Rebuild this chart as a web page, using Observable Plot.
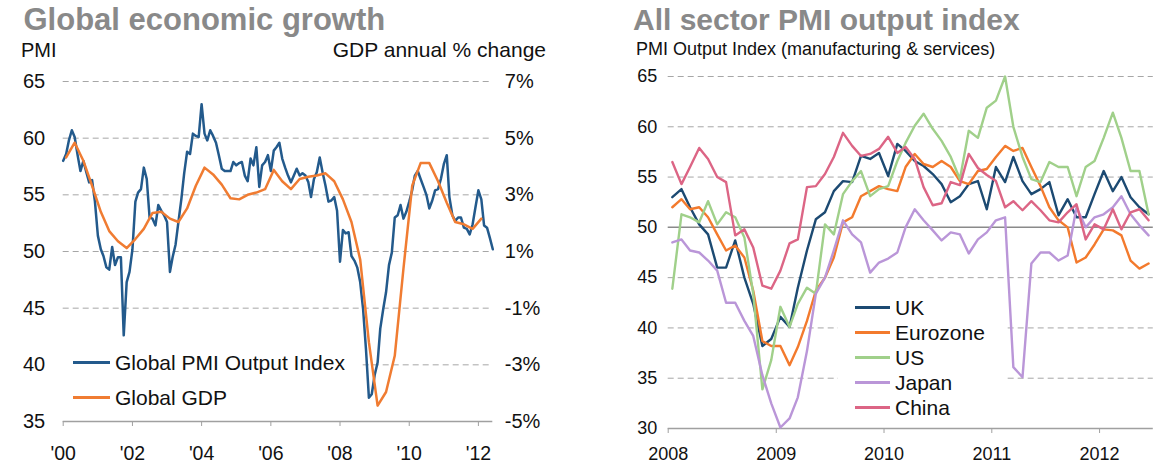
<!DOCTYPE html>
<html>
<head>
<meta charset="utf-8">
<script src="https://cdn.jsdelivr.net/npm/d3@7"></script>
<script src="https://cdn.jsdelivr.net/npm/@observablehq/plot@0.6"></script>
<style>
  html,body{margin:0;padding:0;background:#fff;}
  #wrap{position:relative;width:1154px;height:472px;overflow:hidden;font-family:"Liberation Sans",Arial,Helvetica,sans-serif;color:#111;}
  .chart{position:absolute;top:0;}
  .t{position:absolute;white-space:nowrap;line-height:1;}
  .title{font-weight:bold;color:#898989;}
  .legend{position:absolute;background:#fff;}
  .row{position:absolute;display:flex;align-items:center;white-space:nowrap;line-height:1;color:#111;}
  .sw{display:inline-block;height:3px;}
</style>
</head>
<body>
<div id="wrap">
  <div id="left" class="chart" style="left:0"></div>
  <div id="right" class="chart" style="left:577px"></div>
</div>
<script>
// ---------------- DATA ----------------
// Left panel: Global PMI Output Index, monthly from Jan 2000
const pmiStartYear = 2000;
const globalPMI = [
  58.0,58.6,59.8,60.7,60.1,58.5,57.1,58.0,57.0,56.1,56.3,54.4,
  51.4,50.2,49.6,48.6,48.4,50.4,48.8,49.5,49.5,42.6,47.3,48.2,
  50.2,54.4,55.2,55.5,57.4,56.4,53.0,52.9,52.3,54.1,53.6,53.2,
  52.6,48.2,49.5,50.6,52.6,54.6,56.9,58.8,58.6,60.4,60.2,60.1,
  63.0,60.4,59.8,60.7,60.2,59.6,58.5,57.3,57.1,57.1,57.1,57.9,
  57.6,57.8,57.9,56.7,56.2,58.2,57.6,59.2,55.7,57.6,57.9,58.5,
  57.1,58.9,59.2,59.6,58.2,57.4,56.7,56.1,56.7,57.3,56.7,56.9,
  56.7,56.1,54.8,56.4,57.0,58.3,57.0,55.8,54.4,54.5,54.8,53.6,
  49.1,51.9,51.6,51.7,49.6,49.2,48.6,47.3,44.9,41.4,37.1,37.4,
  39.1,40.2,43.2,44.9,46.4,48.8,49.9,53.0,53.2,54.1,52.9,53.5,
  54.4,55.4,56.7,57.1,56.4,55.7,55.0,53.8,54.5,55.4,55.5,56.4,
  57.7,58.5,54.8,53.2,52.7,53.0,53.0,52.1,52.0,51.5,52.4,53.9,
  55.4,54.6,52.3,52.1,51.2,50.2
];
// Global GDP annual % change, quarterly (mid-quarter, first = Feb 2000)
const gdpFirstMonth = 1;
const globalGDP = [
  4.32,4.84,4.2,3.32,2.4,1.72,1.36,1.12,1.44,1.8,2.36,2.4,2.16,2.04,2.52,3.32,
  3.96,3.72,3.36,2.88,2.84,3.0,3.08,3.2,3.88,3.48,3.2,3.56,3.64,3.68,3.76,3.48,
  2.84,2.04,0.72,-2.2,-4.44,-3.96,-2.68,0.4,3.32,4.12,4.12,3.48,2.72,2.04,1.96,1.8,2.16
];
const leftSeries = ["Global PMI Output Index","Global GDP"];
const pmiTicks = [35,40,45,50,55,60,65];
const gdpTicks = [-5,-3,-1,1,3,5,7];
const leftYearTicks = [2000,2002,2004,2006,2008,2010,2012];

// Right panel: All sector PMI output index, monthly Jan 2008 - Jun 2012
const rightStartYear = 2008;
const countries = ["UK","Eurozone","US","Japan","China"];
const uk = [
  53.0,53.8,52.0,50.3,49.3,46.0,46.0,48.7,45.0,42.4,38.2,38.9,
  41.1,40.1,44.0,47.7,50.8,51.5,53.6,54.6,54.5,57.1,56.8,57.4,
  55.1,58.3,57.6,56.6,56.1,55.3,54.3,52.5,53.1,54.3,54.6,51.8,
  56.0,54.5,57.0,54.6,53.3,53.8,54.5,51.2,52.8,51.0,51.0,53.3,
  55.6,53.6,55.0,53.0,52.0,51.3
];
const eurozone = [
  52.0,52.8,51.8,52.0,51.0,49.3,47.7,48.2,47.0,43.7,38.7,38.2,
  38.2,36.3,38.1,40.7,43.7,45.0,47.0,50.5,51.0,53.1,53.6,54.1,
  53.8,53.6,56.0,57.3,56.3,56.0,56.6,56.0,54.6,54.3,55.6,55.8,
  57.0,58.1,57.6,57.9,56.0,54.1,52.0,50.7,50.0,46.5,47.0,48.3,
  49.8,49.7,49.2,46.7,45.9,46.4
];
const us = [
  43.9,51.3,51.0,50.5,52.6,50.3,51.5,51.0,49.0,43.4,33.9,36.8,
  42.1,40.1,42.4,44.0,43.4,50.3,49.3,53.3,54.6,55.6,53.1,53.8,
  54.1,56.6,58.4,60.1,61.3,59.8,58.6,57.0,54.8,59.6,58.9,61.9,
  62.6,65.0,60.0,57.0,54.8,54.5,56.5,56.0,56.0,53.1,56.0,56.6,
  58.9,61.4,58.9,55.6,55.6,51.3
];
const japan = [
  48.5,48.8,47.7,47.5,46.7,45.7,42.5,42.5,40.7,39.2,35.3,32.5,
  30.1,31.0,33.1,37.7,43.4,45.0,47.7,50.7,49.3,48.5,45.5,46.5,
  46.9,47.5,50.0,51.8,50.7,49.7,48.7,49.5,49.3,47.4,48.8,49.5,
  50.7,51.0,36.1,35.1,46.4,47.5,47.5,46.7,47.2,52.0,50.0,51.0,
  51.3,52.0,53.1,51.3,50.2,49.2
];
const china = [
  56.5,54.3,56.0,57.9,56.8,55.0,54.5,49.2,49.8,48.0,44.2,43.9,
  45.7,48.4,48.8,54.0,54.1,55.3,57.0,59.4,58.1,57.1,57.3,57.8,
  59.0,57.4,58.0,56.8,54.0,52.2,52.4,54.5,54.2,57.3,55.9,55.2,
  54.6,52.0,52.6,51.7,52.6,51.7,50.7,50.5,51.5,52.3,48.8,50.3,
  49.8,51.8,49.8,51.5,51.8,50.7
];
const rightTicks = [30,35,40,45,50,55,60,65];
const rightYearTicks = [2008,2009,2010,2011,2012];

// ---------------- STYLE ----------------
const FONT = '"Liberation Sans", Arial, Helvetica, sans-serif';
const leftColors = ["#235a8c", "#f07c32"];
const countryColors = ["#1c4a72", "#f37a2d", "#a0d08a", "#ba96d8", "#dc6585"];
const gridStyle = {stroke: "#a6a6a6", strokeWidth: 1, strokeDasharray: "6,4"};

// ---------------- HELPERS ----------------
const wrap = document.getElementById("wrap");
function addText(txt, x, baseline, size, opts = {}) {
  const d = document.createElement("div");
  d.className = "t" + (opts.cls ? " " + opts.cls : "");
  d.textContent = txt;
  d.style.fontSize = size + "px";
  d.style.top = (baseline - 0.8465 * size) + "px";
  if (opts.align === "right") d.style.right = (1154 - x) + "px";
  else d.style.left = x + "px";
  if (opts.color) d.style.color = opts.color;
  wrap.appendChild(d);
}
function addLegend(box, items, swX0, swX1, textSize) {
  const b = document.createElement("div");
  b.className = "legend";
  Object.assign(b.style, {left: box.x + "px", top: box.y + "px", width: box.w + "px", height: box.h + "px"});
  wrap.appendChild(b);
  items.forEach(it => {
    const r = document.createElement("div");
    r.className = "row";
    Object.assign(r.style, {left: swX0 + "px", top: (it.cy - 12) + "px", height: "24px", fontSize: textSize + "px"});
    const sw = document.createElement("span");
    sw.className = "sw";
    Object.assign(sw.style, {width: (swX1 - swX0) + "px", background: it.color, marginRight: "5px"});
    const tx = document.createElement("span");
    tx.textContent = it.label;
    r.appendChild(sw); r.appendChild(tx);
    wrap.appendChild(r);
  });
}

// ---------------- LEFT PANEL ----------------
const gdpToPmi = g => 35 + (g - gdpTicks[0]) * (65 - 35) / (gdpTicks[gdpTicks.length - 1] - gdpTicks[0]);
const pmiToGdp = p => gdpTicks[0] + (p - 35) * (gdpTicks[gdpTicks.length - 1] - gdpTicks[0]) / (65 - 35);

const pmiData = globalPMI.map((v, i) => ({date: new Date(Date.UTC(pmiStartYear, i, 1)), value: v}));
const gdpData = globalGDP.map((v, i) => ({date: new Date(Date.UTC(pmiStartYear, gdpFirstMonth + 3 * i, 1)), value: gdpToPmi(v)}));

const leftPlot = Plot.plot({
  width: 577, height: 472,
  marginLeft: 62.7, marginRight: 84.7, marginTop: 81, marginBottom: 51,
  x: {type: "utc", domain: [new Date(Date.UTC(2000, 0, 1)), new Date(Date.UTC(2012, 5, 1))]},
  y: {domain: [35, 65]},
  style: {fontFamily: FONT, fontSize: "20px", color: "#111", background: "transparent", overflow: "visible"},
  marks: [
    Plot.ruleY(pmiTicks.filter(t => t > 35), gridStyle),
    Plot.ruleY([35], {stroke: "#a0a0a0", strokeWidth: 1.5}),
    Plot.axisY(pmiTicks, {anchor: "left", tickSize: 0, tickPadding: 18, label: null, fontSize: 20}),
    Plot.axisY(gdpTicks.map(gdpToPmi), {anchor: "right", tickSize: 0, tickPadding: 12, textAnchor: "start", label: null, fontSize: 20,
      tickFormat: d => Math.round(pmiToGdp(d)) + "%"}),
    Plot.axisX(leftYearTicks.map(y => new Date(Date.UTC(y, 0, 1))), {anchor: "bottom", tickSize: 5, tickPadding: 20, stroke: "#a0a0a0", label: null, fontSize: 19.5,
      tickFormat: d => "'" + String(d.getUTCFullYear()).slice(2)}),
    Plot.line(pmiData, {x: "date", y: "value", stroke: leftColors[0], strokeWidth: 2.5, strokeLinejoin: "round"}),
    Plot.line(gdpData, {x: "date", y: "value", stroke: leftColors[1], strokeWidth: 2.5, strokeLinejoin: "round"})
  ]
});
document.getElementById("left").appendChild(leftPlot);

// ---------------- RIGHT PANEL ----------------
const seriesArrays = [uk, eurozone, us, japan, china];
const rightData = [];
countries.forEach((c, ci) => seriesArrays[ci].forEach((v, i) =>
  rightData.push({date: new Date(Date.UTC(rightStartYear, i, 15)), value: v, series: c})));

const rightPlot = Plot.plot({
  width: 577, height: 472,
  marginLeft: 90.7, marginRight: 1.2, marginTop: 76, marginBottom: 44,
  x: {type: "utc", domain: [new Date(Date.UTC(2008, 0, 1)), new Date(Date.UTC(2012, 6, 1))]},
  y: {domain: [30, 65]},
  color: {domain: countries, range: countryColors},
  style: {fontFamily: FONT, fontSize: "18px", color: "#111", background: "transparent", overflow: "visible"},
  marks: [
    Plot.ruleY(rightTicks.filter(t => t !== 30 && t !== 50), gridStyle),
    Plot.ruleY([50], {stroke: "#8a8a8a", strokeWidth: 1.5}),
    Plot.ruleY([30], {stroke: "#a0a0a0", strokeWidth: 1.5}),
    Plot.axisY(rightTicks, {anchor: "left", tickSize: 0, tickPadding: 11, label: null, fontSize: 18}),
    Plot.axisX(rightYearTicks.map(y => new Date(Date.UTC(y, 0, 1))), {anchor: "bottom", tickSize: 5, tickPadding: 14, stroke: "#a0a0a0", label: null, fontSize: 18,
      tickFormat: d => String(d.getUTCFullYear())}),
    Plot.line(rightData, {x: "date", y: "value", z: "series", stroke: "series", strokeWidth: 2.4, strokeLinejoin: "round"})
  ]
});
document.getElementById("right").appendChild(rightPlot);

// ---------------- TEXT & LEGENDS ----------------
addText("Global economic growth", 23.5, 30, 31, {cls: "title"});
addText("PMI", 21, 57, 20);
addText("GDP annual % change", 546, 57, 21, {align: "right"});
addText("All sector PMI output index", 633, 30, 30, {cls: "title"});
addText("PMI Output Index (manufacturing & services)", 636, 55, 18);

addLegend({x: 62, y: 343, w: 298, h: 70},
  leftSeries.map((s, i) => ({label: s, color: leftColors[i], cy: [362, 397][i]})), 73, 110, 21);
addLegend({x: 838, y: 292, w: 168, h: 128},
  countries.map((c, i) => ({label: c, color: countryColors[i], cy: 307 + 25 * i})), 855, 890, 21);
</script>
</body>
</html>
